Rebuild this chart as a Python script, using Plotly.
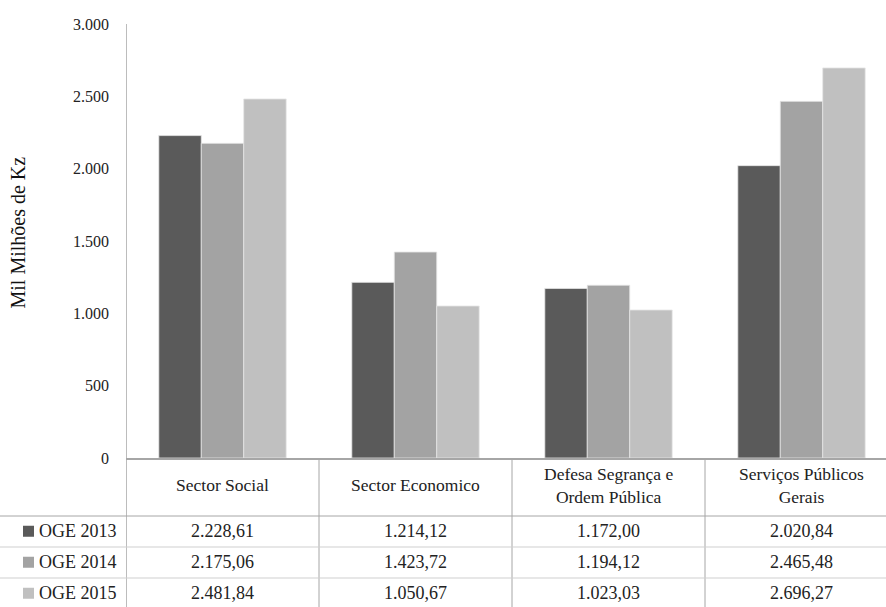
import plotly.graph_objects as go

categories = ["Sector Social", "Sector Economico", "Defesa Segrança e<br>Ordem Pública", "Serviços Públicos<br>Gerais"]
series_names = ["OGE 2013", "OGE 2014", "OGE 2015"]
oge_2013 = [2228.61, 1214.12, 1172.00, 2020.84]
oge_2014 = [2175.06, 1423.72, 1194.12, 2465.48]
oge_2015 = [2481.84, 1050.67, 1023.03, 2696.27]
colors = ["#5a5a5a", "#a3a3a3", "#c0c0c0"]
y_ticks = [0, 500, 1000, 1500, 2000, 2500, 3000]

series = [oge_2013, oge_2014, oge_2015]

W, H = 886, 607
L, R, T, B = 126, 0, 24, 149
PW = W - L - R
PH = H - T - B
CAT_W = 193.0
FONT = "'Liberation Serif', 'DejaVu Serif', serif"


def px_x(px):
    return (px - L) / PW


def px_y(py):
    return (H - B - py) / PH


def fmt(v):
    s = f"{v:,.2f}"
    return s.replace(",", "X").replace(".", ",").replace("X", ".")


xs = list(range(len(categories)))
fig = go.Figure()
for name, vals, col in zip(series_names, series, colors):
    fig.add_trace(go.Bar(
        x=xs, y=vals, name=name,
        marker=dict(color=col, line=dict(color="#e6e6e6", width=0.8)),
    ))

x_max = -0.5 + PW / CAT_W

shapes = []
annotations = []
line_col = "#a6a6a6"
row_line_col = "#cfcfcf"

# vertical lines of table
shapes.append(dict(type="line", xref="x", yref="paper", x0=-0.5, x1=-0.5,
                   y0=1, y1=px_y(H), line=dict(color=line_col, width=1.5)))
for i in range(len(categories)):
    shapes.append(dict(type="line", xref="x", yref="paper", x0=i + 0.5, x1=i + 0.5,
                       y0=0, y1=px_y(H), line=dict(color=line_col, width=1)))

# header row
header_center = 485
for i, c in enumerate(categories):
    annotations.append(dict(xref="x", yref="paper", x=i, y=px_y(header_center),
                            text=c, showarrow=False, xanchor="center", yanchor="middle",
                            font=dict(family=FONT, size=17.5, color="#222222")))

row_top = [516, 547, 578]
row_h = 30.5
for r, (name, vals, col) in enumerate(zip(series_names, series, colors)):
    top = row_top[r]
    shapes.append(dict(type="line", xref="paper", yref="paper", x0=px_x(0), x1=1,
                       y0=px_y(top), y1=px_y(top),
                       line=dict(color=row_line_col if r else line_col, width=1)))
    cy = top + row_h / 2
    shapes.append(dict(type="rect", xref="paper", yref="paper",
                       x0=px_x(23), x1=px_x(34), y0=px_y(cy - 5.5), y1=px_y(cy + 5.5),
                       fillcolor=col, line=dict(width=0)))
    annotations.append(dict(xref="paper", yref="paper", x=px_x(37), y=px_y(cy),
                            text=name, showarrow=False, xanchor="left", yanchor="middle",
                            font=dict(family=FONT, size=18, color="#222222")))
    for i, v in enumerate(vals):
        annotations.append(dict(xref="x", yref="paper", x=i, y=px_y(cy),
                                text=fmt(v), showarrow=False, xanchor="center", yanchor="middle",
                                font=dict(family=FONT, size=18, color="#222222")))

annotations.append(dict(xref="paper", yref="paper", x=px_x(17.5), y=px_y(233),
                        text="Mil Milhões de Kz", textangle=-90, showarrow=False,
                        xanchor="center", yanchor="middle",
                        font=dict(family=FONT, size=20, color="#111111")))

fig.update_layout(
    width=W, height=H,
    margin=dict(l=L, r=R, t=T, b=B, autoexpand=False),
    paper_bgcolor="white", plot_bgcolor="white",
    barmode="group", bargap=0.34, bargroupgap=0,
    showlegend=False,
    separators=",.",
    font=dict(family=FONT, size=16, color="#222222"),
    xaxis=dict(range=[-0.5, x_max], showticklabels=False, showgrid=False, zeroline=False,
               showline=True, linecolor=line_col, linewidth=1.5, ticks=""),
    yaxis=dict(range=[0, 3000], tickvals=y_ticks, tickformat=",d", showgrid=False,
               zeroline=False, showline=False, ticks="", ticklabelstandoff=16,
               tickfont=dict(family=FONT, size=16, color="#222222")),
    shapes=shapes,
    annotations=annotations,
)

fig.write_html("out.html", config={"displayModeBar": False},
               post_script="document.body.style.margin='0';")
